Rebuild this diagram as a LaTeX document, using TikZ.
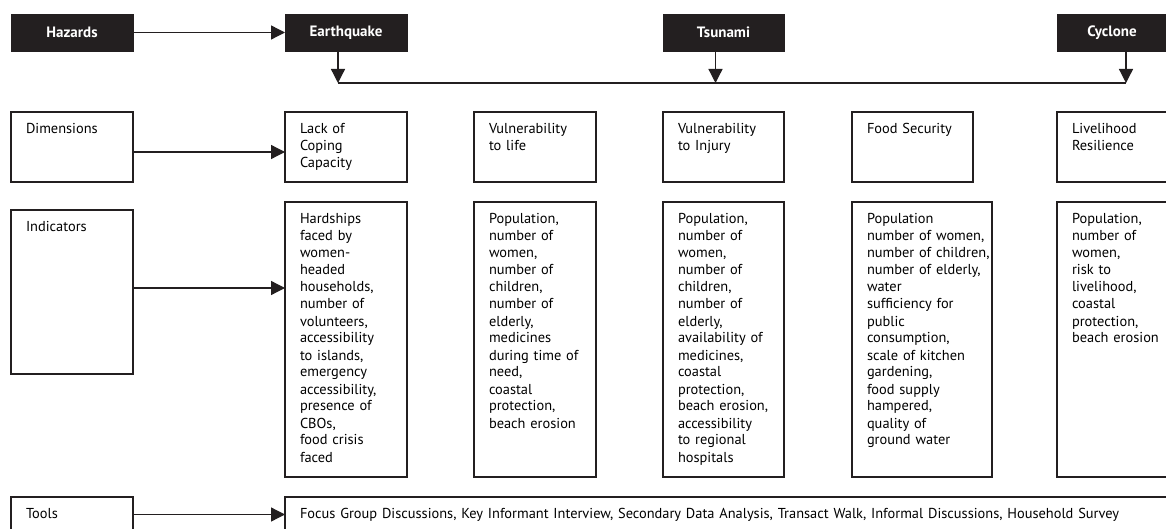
\documentclass[tikz,border=0pt]{standalone}
\usepackage{fontspec}
\setmainfont{PT Sans}
\usepackage{tikz}
\usetikzlibrary{arrows.meta,positioning,calc}
\hyphenpenalty=10000
\exhyphenpenalty=10000
\definecolor{cInk}{HTML}{231F20}
\tikzset{
  hz/.style   ={fill=cInk,draw=cInk,text=white,anchor=north west,inner sep=0pt,
                minimum height=37pt,font=\bfseries\fontsize{15}{17}\selectfont},
  cell/.style ={draw=cInk,line width=1.3pt,anchor=north west,align=left,
                inner xsep=15pt,inner ysep=0pt,text height=22pt,
                font=\fontsize{14.4}{17}\selectfont},
  arr/.style  ={-{Triangle[length=14pt,width=14pt]},draw=cInk,line width=1.3pt},
  ln/.style   ={draw=cInk,line width=1.3pt},
}

\begin{document}
\begin{tikzpicture}[x=1pt,y=1pt,every node/.style={outer sep=0pt}]
\useasboundingbox (0,0) rectangle (1166,-529);
\clip (0,0) rectangle (1166,-529);

% hazards
\node[hz,minimum width=122pt] (hazards) at (11,-14)   {Hazards};
\node[hz,minimum width=122pt] (quake)   at (285,-14)  {Earthquake};
\node[hz,minimum width=121pt] (tsunami) at (663,-14)  {Tsunami};
\node[hz,minimum width=110pt] (cyclone) at (1057,-14) {Cyclone};
\coordinate (bus) at (0,-83);

\draw[arr] (hazards) -- (quake);
\foreach \h/\dx in {quake/-8,tsunami/-8,cyclone/14}
  {\draw[arr] ([xshift=\dx pt]\h.south) -- ([xshift=\dx pt]\h.south |- bus);}
\draw[ln] ([xshift=-8pt]quake.south |- bus) -- ([xshift=14pt]cyclone.south |- bus);

% dimensions
\node[cell,text width=92pt,text depth=48pt] (dims)   at (11,-112)   {Dimensions};
\node[cell,text width=92pt,text depth=48pt] (lack)   at (285,-112)  {Lack of\\Coping\\Capacity};
\node[cell,text width=92pt,text depth=48pt] (vlife)  at (474,-112)  {Vulnerability\\to~life};
\node[cell,text width=91pt,text depth=48pt] (vinj)   at (663,-112)  {Vulnerability\\to~Injury};
\node[cell,text width=91pt,text depth=48pt] (food)   at (852,-112)  {Food~Security};
\node[cell,text width=100pt,text depth=48pt] (liveli) at (1057,-112) {Livelihood\\Resilience};
\draw[arr] ([yshift=-5pt]dims.east) -- ([yshift=-5pt]dims.east -| lack.west);

% indicators
\node[cell,text width=92pt,text depth=142pt] (inds) at (11,-210) {Indicators};
\node[cell,text width=92pt,text depth=253pt] (indLack) at (285,-202)
  {Hardships\\faced~by\\women-\\headed\\households,\\number~of\\volunteers,\\accessibility\\to~islands,\\emergency\\accessibility,\\presence~of\\CBOs,\\food~crisis\\faced};
\node[cell,text width=92pt,text depth=253pt] (indLife) at (474,-202)
  {Population,\\number~of\\women,\\number~of\\children,\\number~of\\elderly,\\medicines\\during~time~of\\need,\\coastal\\protection,\\beach~erosion};
\node[cell,text width=91pt,text depth=253pt] (indInj) at (663,-202)
  {Population,\\number~of\\women,\\number~of\\children,\\number~of\\elderly,\\availability~of\\medicines,\\coastal\\protection,\\beach~erosion,\\accessibility\\to~regional\\hospitals};
\node[cell,text width=110pt,text depth=253pt] (indFood) at (852,-202)
  {Population\\number~of~women,\\number~of~children,\\number~of~elderly,\\water\\sufficiency~for\\public\\consumption,\\scale~of~kitchen\\gardening,\\food~supply\\hampered,\\quality~of\\ground~water};
\node[cell,text width=100pt,text depth=253pt] (indLive) at (1057,-202)
  {Population,\\number~of\\women,\\risk~to\\livelihood,\\coastal\\protection,\\beach~erosion};
\draw[arr] ([yshift=4pt]inds.east) -- ([yshift=4pt]inds.east -| indLack.west);

% tools
\node[cell,text width=92pt,text height=21pt,text depth=20pt] (tools) at (11,-497) {Tools};
\node[cell,text width=880pt,text height=21pt,text depth=20pt] (methods) at (285,-497)
  {Focus Group Discussions, Key Informant Interview, Secondary Data Analysis, Transact Walk, Informal Discussions, Household Survey};
\draw[arr] ([yshift=3pt]tools.east) -- ([yshift=3pt]tools.east -| methods.west);
\end{tikzpicture}
\end{document}
